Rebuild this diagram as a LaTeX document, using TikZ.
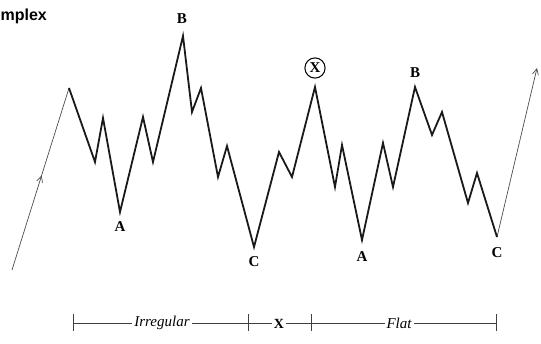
\documentclass[tikz,border=0pt]{standalone}
\usepackage{fontspec}
\setmainfont{Liberation Serif}
\newfontfamily\hdfont{Liberation Sans}
\usetikzlibrary{arrows.meta,decorations.markings}
\begin{document}
\begin{tikzpicture}[x=1pt,y=-1pt,
  wave/.style={line width=1.8pt,line join=miter,black!90},
  thinarrow/.style={line width=0.7pt,black!70},
  lbl/.style={font=\fontsize{15}{15}\selectfont\bfseries,inner sep=0pt},
  dimtext/.style={font=\fontsize{15}{15}\selectfont\itshape,fill=white,inner sep=2pt},
  dimline/.style={line width=0.7pt,black!75},
  tip/.style={-{Straight Barb[length=6pt,width=6pt,line width=0.7pt]}}]
\useasboundingbox (0,0) rectangle (541,343);
% vertices
\coordinate (s0) at (12,270);
\coordinate (p1) at (69,88);
\coordinate (p2) at (95,162);
\coordinate (p3) at (103,118);
\coordinate (pA1) at (120,212);
\coordinate (p5) at (143,117);
\coordinate (p6) at (153,162);
\coordinate (pB1) at (183,36);
\coordinate (p8) at (192,112);
\coordinate (p9) at (201,88);
\coordinate (p10) at (218,177);
\coordinate (p11) at (227,146);
\coordinate (pC1) at (254,247);
\coordinate (p13) at (279,152);
\coordinate (p14) at (292,177);
\coordinate (pX) at (315,87);
\coordinate (p16) at (335,187);
\coordinate (p17) at (342,145);
\coordinate (pA2) at (362,240);
\coordinate (p19) at (383,143);
\coordinate (p20) at (393,187);
\coordinate (pB2) at (415,87);
\coordinate (p22) at (432,135);
\coordinate (p23) at (442,112);
\coordinate (p24) at (468,203);
\coordinate (p25) at (477,173);
\coordinate (pC2) at (497,237);
\coordinate (e1) at (537,68);
% title
\node[font=\hdfont\fontsize{16}{16}\selectfont\bfseries,anchor=base east,inner sep=0pt] (title) at (47,20) {mplex};
% thin arrows
\draw[thinarrow,decoration={markings,mark=at position 0.52 with {\arrow{Straight Barb[length=6pt,width=6pt,line width=0.7pt]}}},postaction={decorate}] (s0) -- (p1);
\draw[thinarrow,tip] (pC2) -- (e1);
% wave
\draw[wave] (p1) -- (p2) -- (p3) -- (pA1) -- (p5) -- (p6) -- (pB1) -- (p8) -- (p9) -- (p10) -- (p11) -- (pC1) -- (p13) -- (p14) -- (pX) -- (p16) -- (p17) -- (pA2) -- (p19) -- (p20) -- (pB2) -- (p22) -- (p23) -- (p24) -- (p25) -- (pC2);
% labels
\node[lbl] (lB1) at (182,19) {B};
\node[lbl] (lA1) at (120,227) {A};
\node[lbl] (lC1) at (254,262) {C};
\node[lbl,draw,circle,line width=1pt,inner sep=2pt] (lX) at (315,68) {X};
\node[lbl] (lA2) at (362,257) {A};
\node[lbl] (lB2) at (415,73) {B};
\node[lbl] (lC2) at (497,253) {C};
% dimension line
\coordinate (d0) at (73,323);
\coordinate (d1) at (248,323);
\coordinate (d2) at (311,323);
\coordinate (d3) at (496,323);
\draw[dimline] (d0) -- (d3);
\foreach \t in {d0,d1,d2,d3} \draw[dimline] ([yshift=-8pt]\t) -- ([yshift=9pt]\t);
\node[dimtext] (irr) at (162,323) {Irregular};
\node[dimtext,font=\fontsize{14}{14}\selectfont\bfseries] (xx) at (279,324) {X};
\node[dimtext] (flat) at (399,323) {Flat};
\end{tikzpicture}
\end{document}
